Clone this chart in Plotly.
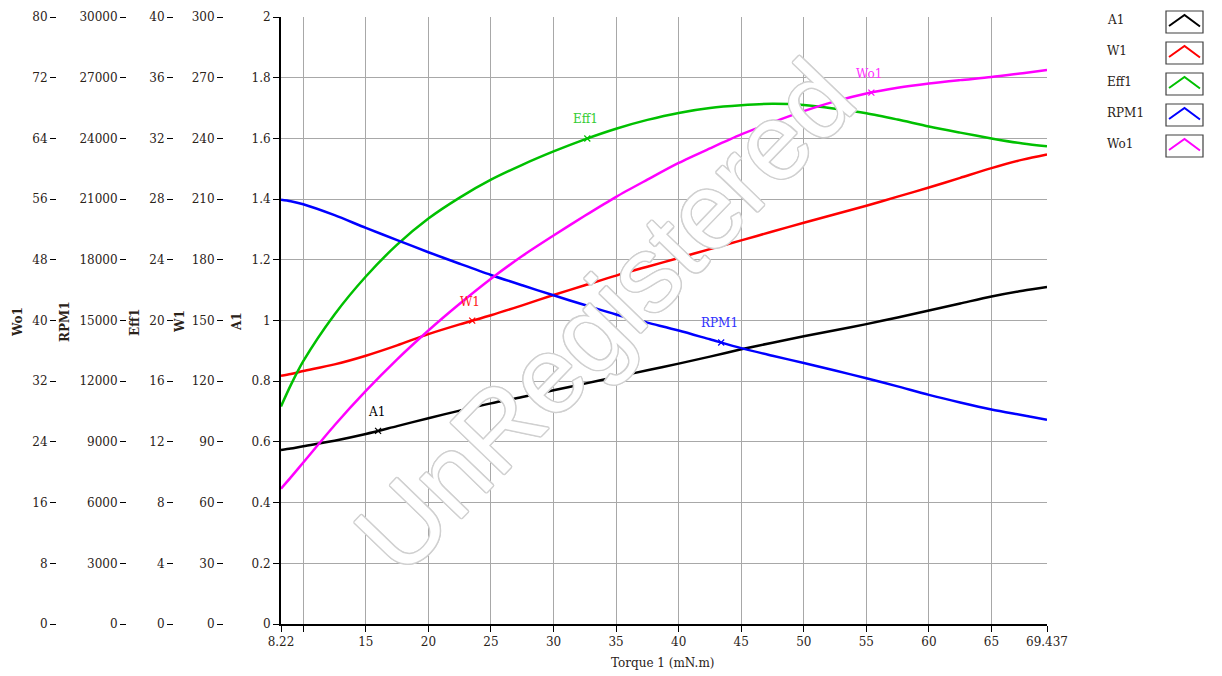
import numpy as np
import plotly.graph_objects as go

# ---------------- data ----------------
torque = [8.22, 9, 10, 12.5, 15, 17.5, 20, 22.5, 25, 27.5, 30, 32.5, 35, 37.5, 40,
          42.5, 45, 47.5, 50, 52.5, 55, 57.5, 60, 62.5, 65, 67.5, 69.437]
a1 = [0.573, 0.578, 0.586, 0.604, 0.626, 0.652, 0.678, 0.703, 0.727, 0.748, 0.770,
      0.792, 0.814, 0.836, 0.858, 0.881, 0.905, 0.927, 0.948, 0.968, 0.988, 1.010,
      1.033, 1.056, 1.079, 1.098, 1.110]
w1 = [122.7, 123.6, 125.0, 128.3, 132.6, 137.7, 143.3, 148.1, 152.6, 157.5, 162.6,
      167.4, 172.2, 176.6, 180.9, 185.3, 189.6, 194.0, 198.3, 202.5, 206.7, 211.2,
      215.7, 220.5, 225.3, 229.5, 232.1]
eff1 = [14.34, 15.74, 17.32, 20.4, 22.9, 25.0, 26.72, 28.1, 29.28, 30.26, 31.14,
        31.94, 32.64, 33.22, 33.68, 34.0, 34.18, 34.28, 34.2, 33.96, 33.66, 33.24,
        32.78, 32.38, 32.0, 31.66, 31.48]
rpm1 = [20970, 20895, 20745, 20205, 19575, 18975, 18375, 17805, 17250, 16740, 16245,
        15765, 15300, 14895, 14505, 14070, 13635, 13260, 12900, 12525, 12150, 11745,
        11325, 10950, 10605, 10320, 10095]
wo1 = [17.84, 19.32, 21.28, 26.2, 30.72, 34.88, 38.68, 42.2, 45.5, 48.5, 51.2,
       53.8, 56.3, 58.56, 60.76, 62.68, 64.52, 66.12, 67.6, 68.88, 69.92, 70.68,
       71.24, 71.68, 72.08, 72.6, 73.0]

series_names = ["A1", "W1", "Eff1", "RPM1", "Wo1"]
series_values = [a1, w1, eff1, rpm1, wo1]
marker_torque = [15.98, 23.5, 32.7, 43.4, 55.4]
axis_ranges = [(0, 2), (0, 300), (0, 40), (0, 30000), (0, 80)]
axis_dticks = [0.2, 30, 4, 3000, 8]
x_tickvals = [8.22, 10, 15, 20, 25, 30, 35, 40, 45, 50, 55, 60, 65, 69.437]
x_ticktext = ["8.22", "", "15", "20", "25", "30", "35", "40", "45", "50", "55",
              "60", "65", "69.437"]

# ---------------- style ----------------
W, H = 1222, 676
OFF = 8                     # page body margin
PLOT_L, PLOT_R, PLOT_T, PLOT_B = 281, 1047, 17, 624
MT = PLOT_T - OFF
MB = H - (PLOT_B - OFF)
line_colors = ["#000000", "#ff0000", "#00c000", "#0000ff", "#ff00ff"]
label_colors = ["#000000", "#ff2020", "#33cc33", "#3030ff", "#ff30ff"]
axis_pos_px = [None, 223, 173, 126, 56]     # free axis positions (px)
title_pos_px = [237, 180, 135, 65, 18]
FONT = "DejaVu Serif"
TXT = "#2a2218"


def px(X):
    return (X - OFF) / W


def py(Y):
    return (PLOT_B - Y) / (PLOT_B - PLOT_T)


fig = go.Figure()
axis_ids = ["y", "y2", "y3", "y4", "y5"]

for i, (name, vals) in enumerate(zip(series_names, series_values)):
    fig.add_trace(go.Scatter(
        x=torque, y=vals, yaxis=axis_ids[i], mode="lines", name=name,
        line=dict(color=line_colors[i], width=2.5, shape="spline", smoothing=0.8),
        showlegend=False, hoverinfo="skip"))
    mx = marker_torque[i]
    my = float(np.interp(mx, torque, vals))
    fig.add_trace(go.Scatter(
        x=[mx], y=[my], yaxis=axis_ids[i], mode="markers",
        marker=dict(symbol="x-thin", size=6, line=dict(color=line_colors[i], width=1.2)),
        showlegend=False, hoverinfo="skip"))
    fig.add_annotation(x=mx, y=my, xref="x", yref=axis_ids[i], text=name,
                       showarrow=False, yshift=19, xshift=-2,
                       xanchor="center", yanchor="middle",
                       font=dict(family=FONT, size=12, color=label_colors[i]))

layout = dict(
    width=W, height=H,
    margin=dict(l=0, r=0, t=MT, b=MB, autoexpand=False),
    paper_bgcolor="white", plot_bgcolor="white",
    font=dict(family=FONT, size=12, color=TXT),
    xaxis=dict(domain=[px(PLOT_L), px(PLOT_R)], range=[8.22, 69.437],
               tickvals=x_tickvals, ticktext=x_ticktext, automargin=False,
               showgrid=True, gridcolor="#a8a8a8", gridwidth=1,
               showline=True, linecolor="#000000", linewidth=2,
               ticks="outside", ticklen=6, tickcolor="#000000",
               zeroline=False, tickfont=dict(family=FONT, size=12, color=TXT)),
)

for i in range(5):
    key = "yaxis" if i == 0 else f"yaxis{i+1}"
    ax = dict(range=list(axis_ranges[i]), dtick=axis_dticks[i], tick0=0,
              ticks="outside", ticklen=6, tickcolor="#000000", automargin=False,
              zeroline=False, tickfont=dict(family=FONT, size=12, color=TXT))
    if i == 3:
        ax["tickformat"] = "d"
    if i == 0:
        ax.update(showgrid=True, gridcolor="#a8a8a8", gridwidth=1,
                  showline=True, linecolor="#000000", linewidth=2, anchor="x")
    else:
        ax.update(showgrid=False, showline=False, overlaying="y", anchor="free",
                  side="left", position=px(axis_pos_px[i]))
    layout[key] = ax

fig.update_layout(**layout)

# axis titles
for i, name in enumerate(series_names):
    fig.add_annotation(x=px(title_pos_px[i]), y=py(322), xref="paper", yref="paper",
                       text=f"<b>{name}</b>", textangle=-90, showarrow=False,
                       xanchor="center", yanchor="middle",
                       font=dict(family=FONT, size=12, color=TXT))

fig.add_annotation(x=px(662), y=py(663), xref="paper", yref="paper",
                   text="Torque 1 (mN.m)", showarrow=False,
                   xanchor="center", yanchor="middle",
                   font=dict(family=FONT, size=12, color=TXT))

# custom legend
for i, name in enumerate(series_names):
    off = 31 * i
    fig.add_annotation(x=px(1105), y=py(20 + off), xref="paper", yref="paper",
                       text=name, showarrow=False, xanchor="left", yanchor="middle",
                       font=dict(family=FONT, size=12, color=TXT))
    fig.add_shape(type="rect", xref="paper", yref="paper",
                  x0=px(1166), x1=px(1203), y0=py(11 + off), y1=py(33 + off),
                  line=dict(color="#404040", width=1.2), fillcolor="white")
    path = (f"M {px(1169)},{py(26 + off)} L {px(1184.5)},{py(15 + off)} "
            f"L {px(1200)},{py(26.5 + off)}")
    fig.add_shape(type="path", xref="paper", yref="paper", path=path,
                  line=dict(color=line_colors[i], width=2))

# watermark
g = "#d0d0d0"
shadow = ", ".join(f"{dx}px {dy}px 0px {g}" for dx, dy in
                   [(1, 0), (-1, 0), (0, 1), (0, -1), (1, 1), (-1, -1), (1, -1), (-1, 1),
                    (1.5, 0), (-1.5, 0), (0, 1.5), (0, -1.5)])
fig.add_annotation(x=px(604), y=py(316), xref="paper", yref="paper",
                   text="UnRegistered", showarrow=False, textangle=-46,
                   xanchor="center", yanchor="middle",
                   font=dict(family="Liberation Sans", size=108,
                             color="#ffffff", shadow=shadow))

fig.write_html("out.html")
